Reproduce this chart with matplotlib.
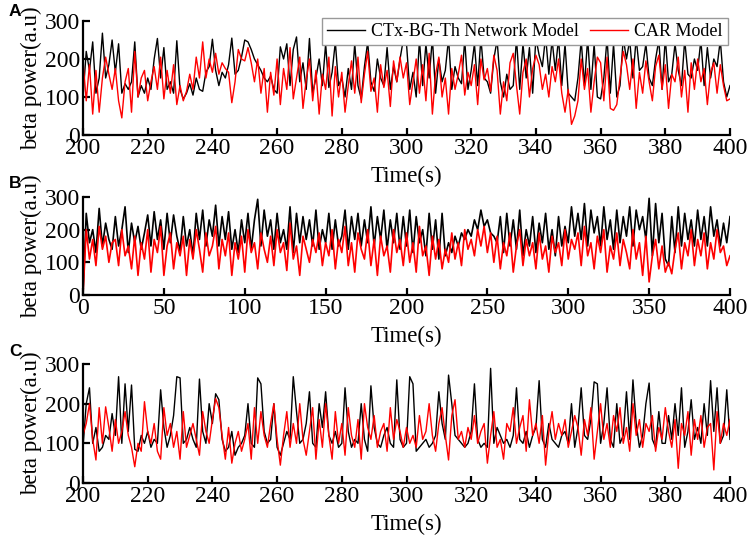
import numpy as np
import matplotlib
matplotlib.use("Agg")
from matplotlib import pyplot as plt

# ---- panel A: 200-400 s, 1 s steps ----
t_a = np.arange(200, 401, 1)
net_a = [
    100, 220, 170, 245, 110, 150, 268, 150, 185, 250,
    165, 240, 110, 135, 120, 140, 245, 100, 130, 110,
    150, 120, 200, 254, 150, 230, 120, 140, 110, 248,
    120, 95, 110, 135, 105, 150, 120, 115, 165, 180,
    252, 170, 130, 165, 150, 185, 255, 160, 170, 205,
    250, 245, 225, 200, 185, 170, 150, 140, 155, 120,
    110, 232, 200, 240, 130, 225, 258, 140, 190, 120,
    254, 110, 150, 200, 130, 240, 125, 165, 245, 130,
    150, 100, 175, 120, 240, 130, 95, 180, 245, 140,
    115, 200, 150, 130, 230, 120, 180, 140, 200, 250,
    240, 120, 165, 100, 250, 130, 240, 150, 255, 110,
    200, 140, 170, 255, 120, 180, 150, 135, 250, 120,
    170, 240, 130, 255, 150, 140, 110, 200, 250, 140,
    100, 160, 120, 130, 255, 120, 240, 150, 230, 110,
    255, 210, 180, 260, 160, 250, 170, 255, 130, 240,
    110, 100, 90, 150, 250, 130, 255, 120, 240, 100,
    95, 150, 255, 110, 240, 100, 130, 255, 200, 250,
    150, 255, 170, 180, 240, 150, 130, 200, 250, 120,
    255, 140, 160, 240, 170, 130, 250, 160, 150, 200,
    170, 250, 130, 230, 150, 200, 180, 250, 140, 100,
    130,
]
car_a = [
    195, 90, 185, 55, 170, 60, 150, 205, 160, 120,
    175, 90, 45, 140, 175, 60, 220, 100, 150, 170,
    90, 140, 180, 120, 205, 95, 170, 110, 185, 80,
    130, 90, 115, 160, 120, 205, 150, 245, 150, 200,
    165, 215, 160, 190, 175, 165, 85, 140, 225, 200,
    195, 230, 190, 140, 200, 110, 175, 60, 165, 105,
    200, 80, 175, 120, 230, 95, 150, 205, 70, 145,
    200, 90, 170, 55, 160, 120, 205, 50, 180, 100,
    165, 60, 130, 195, 110, 205, 85, 160, 220, 115,
    150, 60, 185, 125, 170, 75, 195, 140, 205, 150,
    190, 80, 140, 200, 110, 185, 90, 215, 55, 160,
    205, 100, 150, 55, 175, 120, 160, 210, 105, 165,
    130, 185, 80, 200, 145, 175, 115, 210, 170, 55,
    140, 90, 190, 215, 130, 55, 165, 200, 100, 175,
    210, 185, 120, 160, 100, 180, 140, 200, 110, 60,
    120, 28, 50, 90, 200, 120, 175, 60, 140, 205,
    190, 90, 205, 70, 65, 80, 150, 220, 185, 120,
    200, 70, 165, 110, 195, 140, 90, 180, 210, 120,
    185, 70, 160, 140, 205, 100, 170, 60, 190, 120,
    200, 140, 175, 80, 165, 190, 110, 185, 130, 90,
    95,
]

# ---- panel B: 0-400 s, 2 s steps ----
t_b = np.arange(0, 401, 2)
net_b = [
    0, 250, 160, 200, 130, 265, 150, 220, 170, 140,
    240, 150, 200, 270, 130, 220, 160, 210, 140, 190,
    245, 150, 255, 170, 230, 140, 250, 160, 245, 180,
    135, 240, 150, 200, 120, 250, 170, 260, 150, 230,
    180, 275, 150, 240, 170, 255, 140, 200, 130, 230,
    160, 250, 140, 230, 293, 150, 260, 180, 230, 140,
    250, 160, 200, 140, 270, 130, 250, 160, 240, 170,
    230, 150, 260, 140, 200, 160, 250, 140, 230, 150,
    180, 260, 140, 240, 170, 250, 150, 230, 160, 270,
    150, 240, 170, 260, 140, 230, 160, 250, 140, 240,
    150, 260, 130, 240, 160, 200, 120, 250, 140, 230,
    110, 250, 120, 160, 130, 180, 150, 190, 170, 200,
    180, 230, 200, 260, 210, 230, 190, 180, 160, 240,
    130, 250, 150, 230, 140, 260, 120, 200, 150, 240,
    130, 220, 160, 250, 140, 200, 120, 240, 150, 210,
    160, 270, 180, 250, 170, 280, 150, 260, 190, 240,
    150, 270, 170, 230, 140, 260, 160, 240, 180, 270,
    150, 260, 200, 240, 170, 296, 120, 280, 160, 250,
    110, 90, 240, 130, 270, 150, 250, 170, 230, 150,
    260, 170, 240, 150, 270, 180, 230, 150, 220, 160,
    240,
]
car_b = [
    0, 200, 110, 170, 90, 210, 140, 180, 100, 160,
    170, 90, 200, 120, 150, 80, 180, 60, 160, 110,
    200, 70, 170, 130, 210, 60, 150, 190, 80, 160,
    120, 180, 60, 170, 110, 200, 140, 70, 190, 120,
    150, 210, 80, 170, 120, 190, 60, 160, 110, 180,
    70, 200, 130, 160, 80, 190, 140, 100, 180, 90,
    200, 130, 160, 75, 220, 110, 150, 60, 180, 140,
    100, 170, 130, 190, 90, 160, 120, 200, 80, 170,
    130, 210, 90, 160, 70, 190, 140, 110, 200, 90,
    170, 60, 180, 120, 150, 70, 200, 130, 170, 90,
    190, 100, 160, 70, 210, 120, 150, 60, 180, 110,
    170, 80, 140, 100, 190, 110, 160, 90, 200, 140,
    170, 120, 200, 150, 210, 130, 190, 100, 180, 80,
    160, 120, 190, 70, 150, 200, 90, 170, 120, 160,
    80, 190, 110, 150, 70, 180, 130, 160, 90, 200,
    110, 170, 140, 190, 90, 210, 120, 160, 80, 180,
    130, 200, 70, 150, 110, 190, 90, 170, 130, 80,
    200, 110, 160, 60, 180, 40, 120, 170, 80, 150,
    70, 100, 65, 140, 190, 80, 160, 120, 200, 90,
    170, 120, 190, 80, 160, 110, 200, 130, 150, 90,
    120,
]

# ---- panel C: 200-400 s, 1 s steps ----
t_c = np.arange(200, 401, 1)
net_c = [
    90, 200, 240, 100, 140, 80, 90, 120, 110, 175,
    120, 268, 100, 250, 130, 247, 85, 80, 120, 100,
    130, 90, 110, 100, 235, 140, 90, 120, 170, 268,
    265, 100, 110, 140, 110, 90, 262, 130, 100, 200,
    150, 225, 210, 110, 80, 90, 130, 70, 90, 100,
    120, 200, 100, 90, 265, 250, 130, 100, 110, 200,
    90, 70, 100, 130, 110, 268, 180, 100, 110, 150,
    230, 100, 90, 200, 140, 230, 120, 100, 130, 90,
    100, 240, 130, 90, 110, 100, 200, 110, 80, 245,
    140, 100, 90, 120, 140, 100, 90, 260, 110, 90,
    100, 268, 250, 80, 90, 100, 110, 90, 100, 120,
    230, 150, 110, 272, 200, 120, 110, 100, 90, 100,
    130, 250, 110, 90, 100, 90, 289, 100, 140, 120,
    100, 110, 90, 120, 240, 110, 100, 130, 90, 120,
    140, 258, 110, 90, 150, 110, 100, 90, 120, 130,
    100, 200, 90, 140, 240, 120, 110, 160, 255, 250,
    100, 150, 240, 110, 90, 200, 100, 120, 230, 110,
    260, 150, 90, 120, 200, 252, 110, 90, 180, 100,
    100, 170, 110, 200, 120, 240, 90, 130, 210, 110,
    140, 100, 200, 120, 258, 130, 240, 100, 120, 235,
    110,
]
car_c = [
    120, 150, 200, 110, 58, 190, 100, 192, 140, 80,
    160, 100, 130, 180, 120, 90, 41, 100, 80, 205,
    130, 100, 150, 80, 60, 190, 120, 150, 90, 130,
    60, 180, 90, 120, 150, 110, 70, 180, 130, 100,
    160, 213, 190, 120, 60, 140, 50, 100, 130, 80,
    110, 150, 60, 190, 100, 180, 120, 90, 150, 200,
    110, 45, 120, 180, 90, 150, 100, 200, 110, 70,
    130, 190, 60, 160, 90, 200, 120, 60, 180, 100,
    150, 70, 190, 120, 90, 160, 60, 200, 140, 110,
    170, 90, 130, 150, 80, 190, 110, 160, 130, 90,
    140, 100, 120, 90, 170, 110, 130, 200, 120, 80,
    150, 190, 120, 58, 170, 210, 110, 130, 90, 140,
    110, 170, 100, 130, 150, 50, 120, 180, 90, 110,
    60, 150, 130, 190, 100, 140, 170, 80, 210, 120,
    150, 100, 170, 45, 130, 180, 110, 150, 120, 160,
    90, 130, 170, 140, 70, 160, 120, 190, 60, 130,
    200, 110, 150, 90, 170, 130, 190, 100, 140, 80,
    200, 120, 160, 90, 150, 130, 170, 80, 140, 110,
    190, 130, 90, 160, 37, 150, 120, 180, 70, 160,
    110, 170, 90, 140, 150, 33, 180, 100, 150, 120,
    160,
]

serif = "Liberation Serif"
matplotlib.rc("font", family=serif, size=16)

fig = plt.figure(figsize=(7.5, 5.41), dpi=100)

W, H = 750.0, 541.0
left, right = 83, 730
boxes = [(21, 135), (197, 295), (364, 483)]
panels = [
    (t_a, net_a, car_a, (200, 400), np.arange(200, 401, 20), "A", 12, 1.0),
    (t_b, net_b, car_b, (0, 400), np.arange(0, 401, 50), "B", 184, 1.2),
    (t_c, net_c, car_c, (200, 400), np.arange(200, 401, 20), "C", 352, 1.0),
]

axes = []
for (top, bot), (t, net, car, xl, xt, letter, ly, lw) in zip(boxes, panels):
    ax = fig.add_axes([left / W, 1 - bot / H, (right - left) / W, (bot - top) / H])
    (p1,) = ax.plot(t, net, "-", color="black", lw=lw, label="CTx-BG-Th Network Model")
    (p2,) = ax.plot(t, car, "-", color="red", lw=lw, label="CAR Model")
    ax.set_xlim(*xl)
    ax.set_ylim(0, 300)
    ax.set_xticks(xt)
    ax.set_yticks([0, 100, 200, 300])
    ax.spines["top"].set_visible(False)
    ax.spines["right"].set_visible(False)
    ax.spines["left"].set_linewidth(1.6)
    ax.spines["bottom"].set_linewidth(1.6)
    ax.tick_params(direction="in", length=5, width=1.6, labelsize=17, pad=2)
    ax.set_xlabel("Time(s)", fontsize=16.5)
    ax.set_ylabel("beta power(a.u)", fontsize=16.5)
    ax.xaxis.set_label_coords(0.5, -31.0 / (bot - top))
    ax.yaxis.set_label_coords(-41.0 / (right - left), 0.5)
    fig.text(9 / W, 1 - ly / H, letter, fontsize=12.5, fontweight="bold",
             family="Liberation Sans", ha="left", va="center")
    axes.append((ax, p1, p2))

ax01, p11, p12 = axes[0]
leg = ax01.legend([p11, p12], [p11.get_label(), p12.get_label()], ncol=2,
                  loc="upper right", bbox_to_anchor=(0.997, 1.03), fontsize=13,
                  frameon=True, fancybox=False, framealpha=1.0, borderpad=0.3,
                  handlelength=2.1, handletextpad=0.35, columnspacing=0.6,
                  borderaxespad=0.0)
leg.get_frame().set_edgecolor("#999999")
leg.get_frame().set_linewidth(1.0)

fig.savefig("out.png", dpi=100)
